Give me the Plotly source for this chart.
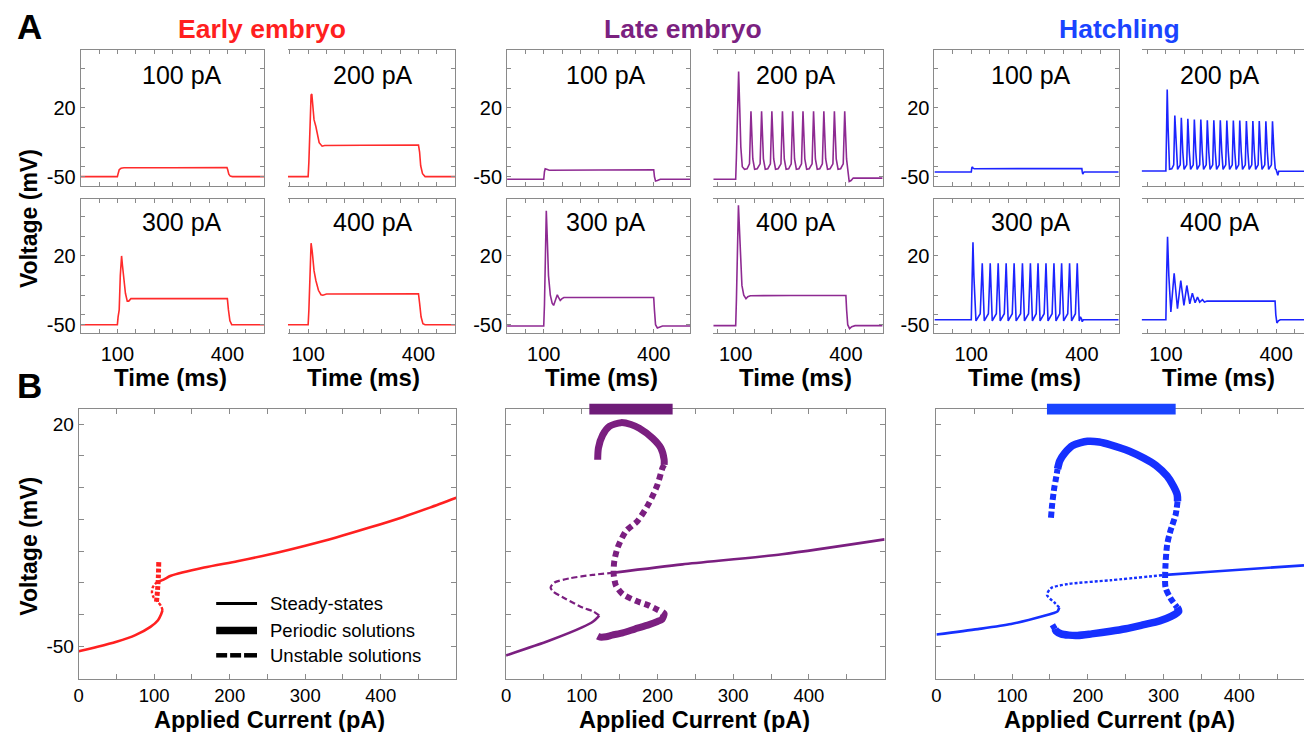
import plotly.graph_objects as go

W, H = 1304, 732
FONT = "'Liberation Sans', Arial, Helvetica, sans-serif"

# ---------------- data: A (voltage traces, time in ms, voltage in mV) ----------------
early_100_t = [0, 100, 102, 105, 110, 118, 250, 399, 401, 404, 408, 414, 500]
early_100_v = [-50, -50, -47, -43, -41.5, -41, -41, -40.8, -43, -47.5, -49.5, -50, -50]
early_200_t = [45, 100, 102, 105, 108, 110, 112, 116, 121, 126, 130, 138, 145, 250, 400, 403, 406, 411, 418, 500]
early_200_v = [-50, -50, -35, 10, 33, 34, 25, 8, 1, -10, -15.5, -19, -18.3, -18, -17.8, -25, -39, -47, -50, -50]
early_300_t = [0, 100, 102, 105, 108, 111.5, 114, 118, 122, 127, 131, 137, 250, 400, 403, 407, 412, 500]
early_300_v = [-50, -50, -42, -35, 0, 20, 10, -8, -18, -26, -26, -23.5, -23.5, -23.5, -35, -46, -50, -50]
early_400_t = [45, 100, 102, 105, 108, 111, 116, 121, 128, 135, 140, 150, 250, 400, 403, 407, 412, 418, 500]
early_400_v = [-50, -50, -35, 10, 33, 25, 5, -5, -15, -19.5, -20, -18.8, -18.6, -18.5, -28, -42, -49, -50, -50]

late_100_t = [0, 100, 102, 104, 108, 115, 250, 400, 402, 405, 410, 418, 500]
late_100_v = [-52.7, -52.7, -45, -42, -42.5, -43.5, -43.3, -43, -50, -54.5, -54, -52.7, -52.7]
late_200_t = [39, 100, 102, 105, 108, 111, 114, 118, 124, 131, 137.6,
              141.6, 146.6, 151.6, 158.6, 166.5,
              170.5, 175.5, 180.5, 187.5, 194.5,
              198.5, 203.5, 208.5, 215.5, 223.3,
              227.3, 232.3, 237.3, 244.3, 251.2,
              255.2, 260.2, 265.2, 272.2, 279.2,
              283.2, 288.2, 293.2, 300.2, 308,
              312, 317, 322, 329, 336,
              340, 345, 350, 357, 364.7,
              368.7, 373.7, 378.7, 385.7, 392.8,
              396.8, 401.8, 405, 409, 414, 420, 500]
late_200_v = [-52.7, -52.7, -30, 20, 57, 20, -20, -40, -42.6, -42, -37,
              16.6, -32, -42.5, -42, -37,
              16.6, -32, -42.5, -42, -37,
              16.6, -32, -42.5, -42, -37,
              16.6, -32, -42.5, -42, -37,
              16.6, -32, -42.5, -42, -37,
              16.6, -32, -42.5, -42, -37,
              16.6, -32, -42.5, -42, -37,
              16.6, -32, -42.5, -42, -37,
              16.6, -32, -42.5, -42, -37,
              16.6, -32, -45, -55, -54, -51.5, -51.5]
late_300_t = [0, 100, 102, 104.5, 107, 109.5, 113, 118, 123, 127, 131, 135, 137, 140, 145, 150, 155, 250, 400, 402, 405, 410, 416, 424, 500]
late_300_v = [-51.3, -51.3, -30, 30, 66, 40, 0, -20, -28, -30.4, -26, -20.5, -19.6, -22, -25.3, -23.5, -22.3, -22.3, -22.3, -35, -50, -53.3, -52.5, -51.3, -51.3]
late_400_t = [39, 100, 102, 104.5, 107.5, 110, 113, 117, 122, 128, 133, 140, 250, 400, 402, 405, 410, 416, 425, 500]
late_400_v = [-51, -51, -25, 40, 71.7, 50, 15, -10, -20, -23.6, -21.5, -20.5, -20.3, -20.3, -35, -50, -54, -52, -51, -51]

hatch_100_t = [0, 100, 101.5, 103, 105, 108, 250, 400, 401, 402.5, 404.5, 406, 500]
hatch_100_v = [-45.3, -45.3, -41, -40, -41.5, -42, -41.9, -41.8, -45, -47.5, -46, -45.3, -45.3]
hatch_200_t = [34, 100, 102, 103.6, 106, 110, 116, 121.3,
               124.3, 128.3, 131.8, 139.0,
               142, 146, 149.5, 156.7,
               159.7, 163.7, 167.2, 174.4,
               177.4, 181.4, 184.9, 192.0,
               195, 199, 202.5, 209.7,
               212.7, 216.7, 220.2, 227.4,
               230.4, 234.4, 237.9, 245.0,
               248, 252, 255.5, 262.8,
               265.8, 269.8, 273.3, 280.5,
               283.5, 287.5, 291, 298,
               301, 305, 308.5, 316,
               319, 323, 326.5, 333.6,
               336.6, 340.6, 344.1, 351,
               354, 358, 361.5, 369,
               372, 376, 379.5, 387,
               390, 394, 397.5, 400, 402, 404.5, 407, 476]
hatch_200_v = [-44.3, -44.3, 0, 38.6, 0, -42.6, -42, -38,
               12.2, -25, -42.6, -38,
               9.9, -25, -42.6, -38,
               8.8, -25, -42.6, -38,
               8.1, -25, -42.6, -38,
               8.1, -25, -42.6, -38,
               7.4, -25, -42.6, -38,
               7.4, -25, -42.6, -38,
               7.4, -25, -42.6, -38,
               7.1, -25, -42.6, -38,
               7.1, -25, -42.6, -38,
               7.1, -25, -42.6, -38,
               6.7, -25, -42.6, -38,
               6.7, -25, -42.6, -38,
               6.7, -25, -42.6, -38,
               6.4, -25, -42.6, -38,
               6.4, -25, -42, -43, -46, -48.7, -44.6, -44.6]
hatch_300_t = [0, 100, 102.5, 104.6, 107, 112.7, 124.3,
               129.8, 132.3, 135.3, 146.4,
               151.4, 153.9, 156.9, 168.0,
               173.0, 175.5, 178.5, 189.6,
               194.6, 197.1, 200.1, 211.2,
               216.2, 218.7, 221.7, 233.8,
               238.8, 241.3, 244.3, 255.4,
               260.4, 262.9, 265.9, 276.1,
               281.1, 283.6, 286.6, 297.7,
               302.7, 305.2, 308.2, 319.3,
               324.3, 326.8, 329.8, 340.1,
               345.1, 347.6, 350.6, 361.7,
               366.7, 369.2, 372.2, 382.5,
               387.5, 390, 393, 396, 399, 401, 404, 500]
hatch_300_v = [-45, -45, 0, 33.9, 0, -46.2, -38.8,
               12.6, -15, -46.2, -38.8,
               12.6, -15, -46.2, -38.8,
               12.6, -15, -46.2, -38.8,
               12.6, -15, -46.2, -38.8,
               12.6, -15, -46.2, -38.8,
               12.6, -15, -46.2, -38.8,
               12.6, -15, -46.2, -38.8,
               12.6, -15, -46.2, -38.8,
               12.6, -15, -46.2, -38.8,
               12.6, -15, -46.2, -38.8,
               12.6, -15, -46.2, -38.8,
               12.6, -15, -46.2, -38.8,
               12.6, -15, -46.2, -42, -44, -47, -45, -45]
hatch_400_t = [34, 100, 102, 104.5, 108, 113.5, 122.5, 131.5, 140.5, 149, 157, 165, 172, 179.5, 186, 192, 199.5, 205, 212, 397, 399, 402, 406, 411, 476]
hatch_400_v = [-45, -45, 0, 39.6, 0, -37.1, 2.4, -33.8, -5, -30.4, -10.1, -28.7, -17.9, -27.7, -21.9, -27, -24.6, -27, -26, -26, -40, -48.3, -46, -45, -45]

stim_labels = ['100 pA', '200 pA', '300 pA', '400 pA']
group_titles = ['Early embryo', 'Late embryo', 'Hatchling']

# ---------------- data: B (bifurcation diagrams, current in pA, voltage in mV) ----------------
early_ss_I = [0, 25, 50, 75, 95, 105, 109, 111]
early_ss_V = [-51.6, -50.2, -48.6, -46.5, -43.9, -41.8, -40, -38.6]
early_us_I = [111, 109, 104, 99, 97, 98, 101, 104]
early_us_V = [-38.6, -37.3, -35.8, -34.5, -33, -31.5, -30.4, -29.8]
early_ss2_I = [104, 113, 122, 166, 210, 253.5, 300, 341, 385, 429, 465, 500]
early_ss2_V = [-29.8, -28.9, -27.8, -25.2, -23.2, -21, -18.3, -15.7, -12.6, -9.3, -6.3, -3.2]
early_upo_I = [106, 105.5, 104.5, 103]
early_upo_V = [-23.5, -28, -32, -36]

late_ss_I = [0, 57.5, 101, 115, 121, 123]
late_ss_V = [-52.9, -48.2, -44, -42.2, -40.9, -40.3]
late_us_I = [123, 115, 101, 79, 62, 58.8, 64, 83.8, 114.5, 143]
late_us_V = [-40.3, -39, -37.8, -35.1, -32.7, -31.5, -29.9, -28.6, -27.5, -26.8]
late_ss2_I = [143, 233, 364.5, 500]
late_ss2_V = [-26.8, -24.2, -21, -16.3]
late_po_up_I = [121, 122, 127.6, 136.4, 151.8, 165, 176, 193.4, 204.4, 208.8, 208.8]
late_po_up_V = [8.8, 12.5, 16.6, 19.3, 20.5, 19.9, 18.7, 15.6, 12.5, 8.8, 7.2]
late_po_un_I = [208.8, 206.6, 200, 189, 173.7, 158.3, 147.4, 143, 142.1, 145.2, 154, 171.5, 189, 206.6]
late_po_un_V = [7.2, 6.2, 0.95, -4.8, -10.5, -13.7, -18.9, -23.1, -27.3, -30.9, -33.6, -35.7, -37.2, -39.3]
late_po_lo_I = [206.6, 208.8, 206, 200, 189, 170, 154, 140, 132, 124, 121]
late_po_lo_V = [-39.3, -39.8, -41.5, -42.2, -43.2, -44.6, -45.8, -46.5, -47, -47.1, -46.8]
late_bar = [110, 220]

hatch_ss_I = [0, 54.8, 98.7, 142.5, 155, 160, 162.3]
hatch_ss_V = [-46.3, -44.6, -43, -40.4, -39.5, -39, -37.8]
hatch_us_I = [162.3, 155.7, 146, 151.3, 173.3, 230, 302.6]
hatch_us_V = [-37.8, -36.2, -33.8, -31.7, -30.4, -29.2, -27.5]
hatch_ss2_I = [302.6, 362, 485.5]
hatch_ss2_V = [-27.5, -26.5, -24.5]
hatch_po_un1_I = [151.3, 153, 155.7, 158, 160]
hatch_po_un1_V = [-9.5, -5, 0, 3, 5.9]
hatch_po_up_I = [160, 163, 169.5, 180, 199.6, 215, 230, 255, 274, 290, 304.8, 313, 318, 318.5]
hatch_po_up_V = [5.9, 8.5, 10.9, 13.3, 14.6, 14.4, 13.5, 11.5, 9.3, 7, 3.6, 0.5, -2.2, -4.3]
hatch_po_un2_I = [318.5, 316, 309, 304.8, 302.6, 302.6, 309, 318]
hatch_po_un2_V = [-4.3, -8.5, -13.7, -17.9, -24.2, -31.5, -34.8, -37.8]
hatch_po_lo_I = [318, 320, 310, 295, 274, 250, 230, 205, 186.4, 175, 164.5, 158, 156.6]
hatch_po_lo_V = [-37.8, -39, -40.6, -42, -43.2, -44.5, -45.3, -46.1, -46.6, -46.5, -46.1, -45.2, -44.6]
hatch_po_un3_I = [156.6, 151.3]
hatch_po_un3_V = [-44.6, -42.5]
hatch_bar = [146, 316]

time_ticks = [100, 400]
current_ticks = [0, 100, 200, 300, 400]
volt_ticks = [-50, 20]

# ---------------- styling ----------------
TRACE_COL = ['#ff2b2b', '#8e2a92', '#1c24ff']
BIF_COL = ['#ff2020', '#7b1f80', '#1630ff']
TITLE_COL = ['#ff1f1f', '#7b2180', '#1a44ff']
BAR_COL = ['#6e1c78', '#1a44ff']
AX = '#8a8a8a'

def px(x):
    return x / W

def py(y):
    return 1 - y / H

def ref(kind, n):
    return kind if n == 1 else f'{kind}{n}'

def axkey(kind, n):
    return f'{kind}axis' if n == 1 else f'{kind}axis{n}'

# pixel boxes (layout)
col_px = [[(76, 260), (284, 452)], [(504, 688), (711, 881)], [(933, 1118), (1141, 1304)]]
row_px = [(50, 187), (200, 334)]
col2_range = [[45, 500], [39, 500], [34, 475.7]]
row_range = [[-59.8, 79.1], [-58.1, 77.8]]
bif_px = [(74, 453), (503, 883), (935, 1304)]
bif_yr = [-60.4, 24.7]
bif_xr = [[0, 500], [0, 500], [0, 485.5]]

traces_A = [
    [(early_100_t, early_100_v), (early_200_t, early_200_v), (early_300_t, early_300_v), (early_400_t, early_400_v)],
    [(late_100_t, late_100_v), (late_200_t, late_200_v), (late_300_t, late_300_v), (late_400_t, late_400_v)],
    [(hatch_100_t, hatch_100_v), (hatch_200_t, hatch_200_v), (hatch_300_t, hatch_300_v), (hatch_400_t, hatch_400_v)],
]

fig = go.Figure()
layout = dict(width=W, height=H, margin=dict(l=0, r=0, t=0, b=0),
              paper_bgcolor='white', plot_bgcolor='white', showlegend=False,
              font=dict(family=FONT, color='black'))
annotations = []
shapes = []

label_pos = [[(178, 75), (369, 75), (178, 223), (369, 223)],
             [(603, 75), (794, 75), (603, 223), (794, 223)],
             [(1030, 75), (1220, 75), (1030, 223), (1220, 223)]]
time_title_x = [[166, 360], [599, 794], [1023, 1218]]

for g in range(3):
    for p in range(4):
        n = g * 5 + p + 1
        row, col = p // 2, p % 2
        x0, x1 = col_px[g][col]
        y0, y1 = row_px[row]
        xr = [0, 500] if col == 0 else col2_range[g]
        t, v = traces_A[g][p]
        fig.add_trace(go.Scatter(x=t, y=v, mode='lines', line=dict(color=TRACE_COL[g], width=1.6),
                                 xaxis=ref('x', n), yaxis=ref('y', n), hoverinfo='skip'))
        layout[axkey('x', n)] = dict(
            domain=[px(x0), px(x1)], range=xr, anchor=ref('y', n),
            showline=True, linecolor=AX, linewidth=1, mirror='ticks',
            ticks='inside', ticklen=4, tickcolor=AX, tickwidth=1,
            tickvals=time_ticks, ticktext=[str(k) for k in time_ticks],
            showticklabels=(row == 1), tickfont=dict(size=20, family=FONT),
            ticklabelstandoff=3,
            minor=dict(ticks='inside', ticklen=4, tickcolor=AX, tickvals=[0, 50, 150, 200, 250, 300, 350, 450, 500]),
            showgrid=False, zeroline=False, fixedrange=True)
        yax = dict(domain=[py(y1), py(y0)], range=row_range[row], anchor=ref('x', n),
                   ticks='inside', ticklen=4, tickcolor=AX, tickwidth=1,
                   tickvals=volt_ticks, ticktext=[str(k) for k in volt_ticks],
                   tickfont=dict(size=20, family=FONT),
                   minor=dict(ticks='inside', ticklen=4, tickcolor=AX, tickvals=[-40, -20, 0, 40, 60]),
                   showgrid=False, zeroline=False, fixedrange=True)
        if col == 0:
            yax.update(showline=True, linecolor=AX, linewidth=1, mirror='ticks', showticklabels=True)
        elif g < 2:
            yax.update(side='right', showline=True, linecolor=AX, linewidth=1, mirror=False, showticklabels=False)
        else:
            yax.update(side='right', showline=False, ticks='', showticklabels=False,
                       minor=dict(ticks=''))
        layout[axkey('y', n)] = yax
        lx, ly = label_pos[g][p]
        annotations.append(dict(x=px(lx), y=py(ly), xref='paper', yref='paper', text=stim_labels[p],
                                showarrow=False, xanchor='center', yanchor='middle',
                                font=dict(size=25, family=FONT, color='black')))
    for col in range(2):
        annotations.append(dict(x=px(time_title_x[g][col]), y=py(379), xref='paper', yref='paper',
                                text='<b>Time (ms)</b>', showarrow=False, xanchor='center', yanchor='middle',
                                font=dict(size=24, family=FONT, color='black')))

# ---------------- B panels ----------------
bif_sets = [
    [  # early
        (early_ss_I, early_ss_V, 2.6, None),
        (early_us_I, early_us_V, 2.4, '3px,2px'),
        (early_ss2_I, early_ss2_V, 2.6, None),
        (early_upo_I, early_upo_V, 5, '4px,2px'),
    ],
    [  # late
        (late_ss_I, late_ss_V, 2.6, None),
        (late_us_I, late_us_V, 2.2, '6px,3px'),
        (late_ss2_I, late_ss2_V, 2.6, None),
        (late_po_up_I, late_po_up_V, 7, None),
        (late_po_un_I, late_po_un_V, 6, '6px,4px'),
        (late_po_lo_I, late_po_lo_V, 7, None),
    ],
    [  # hatchling
        (hatch_ss_I, hatch_ss_V, 2.6, None),
        (hatch_us_I, hatch_us_V, 2.4, '3px,2px'),
        (hatch_ss2_I, hatch_ss2_V, 2.6, None),
        (hatch_po_un1_I, hatch_po_un1_V, 6, '6px,3px'),
        (hatch_po_up_I, hatch_po_up_V, 7.5, None),
        (hatch_po_un2_I, hatch_po_un2_V, 6, '6px,3px'),
        (hatch_po_lo_I, hatch_po_lo_V, 7.5, None),
        (hatch_po_un3_I, hatch_po_un3_V, 6, '5px,3px'),
    ],
]
bif_title_x = [266, 692, 1119]

for g in range(3):
    n = g * 5 + 5
    for I, V, wdt, dash in bif_sets[g]:
        line = dict(color=BIF_COL[g], width=wdt, shape='spline', smoothing=0.7)
        if dash:
            line['dash'] = dash
        fig.add_trace(go.Scatter(x=I, y=V, mode='lines', line=line,
                                 xaxis=ref('x', n), yaxis=ref('y', n), hoverinfo='skip'))
    x0, x1 = bif_px[g]
    layout[axkey('x', n)] = dict(
        domain=[px(x0), px(x1)], range=bif_xr[g], anchor=ref('y', n),
        showline=True, linecolor=AX, linewidth=1, mirror='ticks',
        ticks='inside', ticklen=5, tickcolor=AX, tickwidth=1,
        tickvals=current_ticks, ticktext=[str(k) for k in current_ticks],
        tickfont=dict(size=18.5, family=FONT), ticklabelstandoff=0,
        minor=dict(ticks='inside', ticklen=5, tickcolor=AX, tickvals=[50, 150, 250, 350, 450]),
        showgrid=False, zeroline=False, fixedrange=True)
    layout[axkey('y', n)] = dict(
        domain=[py(682), py(411)], range=bif_yr, anchor=ref('x', n),
        showline=True, linecolor=AX, linewidth=1, mirror=('ticks' if g < 2 else False),
        ticks='inside', ticklen=5, tickcolor=AX, tickwidth=1,
        tickvals=volt_ticks, ticktext=[str(k) for k in volt_ticks],
        showticklabels=(g == 0), tickfont=dict(size=19, family=FONT),
        minor=dict(ticks='inside', ticklen=5, tickcolor=AX, tickvals=[-40, -30, -20, -10, 0, 10]),
        showgrid=False, zeroline=False, fixedrange=True)
    annotations.append(dict(x=px(bif_title_x[g]), y=py(723), xref='paper', yref='paper',
                            text='<b>Applied Current (pA)</b>', showarrow=False,
                            xanchor='center', yanchor='middle',
                            font=dict(size=23.5, family=FONT, color='black')))

# oscillation range bars above late and hatchling panels
for bar, n, colr in [(late_bar, 10, BAR_COL[0]), (hatch_bar, 15, BAR_COL[1])]:
    shapes.append(dict(type='rect', xref=ref('x', n), yref=ref('y', n) + ' domain',
                       x0=bar[0], x1=bar[1], y0=0.981, y1=1.021,
                       fillcolor=colr, line=dict(width=0), layer='above'))

# legend inside early bifurcation panel
leg = [('Steady-states', 3, None, 606), ('Periodic solutions', 7.5, None, 633), ('Unstable solutions', 4.5, 'dash', 658)]
for txt, lw, dash, yy in leg:
    if dash:
        for a, b in [(212, 223), (226, 237), (240, 253)]:
            shapes.append(dict(type='line', xref='paper', yref='paper', x0=px(a), x1=px(b), y0=py(yy), y1=py(yy),
                               line=dict(color='black', width=lw)))
    else:
        shapes.append(dict(type='line', xref='paper', yref='paper', x0=px(212), x1=px(253), y0=py(yy), y1=py(yy),
                           line=dict(color='black', width=lw)))
    annotations.append(dict(x=px(264), y=py(yy), xref='paper', yref='paper', text=txt, showarrow=False,
                            xanchor='left', yanchor='middle', font=dict(size=18.5, family=FONT, color='black')))

# group titles, panel letters, y titles
for g, (cx, col) in enumerate(zip([258, 681, 1119], TITLE_COL)):
    annotations.append(dict(x=px(cx), y=py(29), xref='paper', yref='paper', text=f'<b>{group_titles[g]}</b>',
                            showarrow=False, xanchor='center', yanchor='middle',
                            font=dict(size=26.5, family=FONT, color=col)))
annotations.append(dict(x=px(25), y=py(27), xref='paper', yref='paper', text='<b>A</b>', showarrow=False,
                        xanchor='center', yanchor='middle', font=dict(size=35, family=FONT, color='black')))
annotations.append(dict(x=px(25), y=py(387), xref='paper', yref='paper', text='<b>B</b>', showarrow=False,
                        xanchor='center', yanchor='middle', font=dict(size=35, family=FONT, color='black')))
for cy in [219, 548]:
    annotations.append(dict(x=px(24), y=py(cy), xref='paper', yref='paper', text='<b>Voltage (mV)</b>',
                            showarrow=False, textangle=-90, xanchor='center', yanchor='middle',
                            font=dict(size=23, family=FONT, color='black')))

layout['annotations'] = annotations
layout['shapes'] = shapes
fig.update_layout(**layout)
fig.write_html('out.html')
